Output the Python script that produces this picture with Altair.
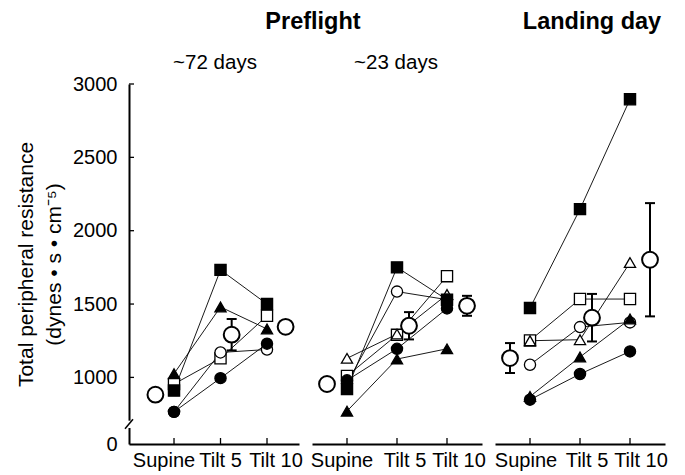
import altair as alt
import pandas as pd

# ---------------- data ----------------
conditions = ["Supine", "Tilt 5", "Tilt 10"]
panel_titles = ["~72 days", "~23 days", ""]

subjects = ["open square", "open triangle", "open circle",
            "filled square", "filled triangle", "filled circle"]
subject_shapes = ["square", "triangle-up", "circle", "square", "triangle-up", "circle"]
subject_fills = ["white", "white", "white", "black", "black", "black"]

# Total peripheral resistance (dynes·s·cm-5) per subject: Supine, Tilt 5, Tilt 10
tpr_72 = {
    "open square": [955, 1130, 1420],
    "open triangle": [None, None, None],
    "open circle": [765, 1170, 1190],
    "filled square": [910, 1733, 1500],
    "filled triangle": [1025, 1480, 1330],
    "filled circle": [765, 995, 1230],
}
tpr_23 = {
    "open square": [1010, 1290, 1690],
    "open triangle": [1130, 1295, 1565],
    "open circle": [960, 1585, 1530],
    "filled square": [920, 1750, 1530],
    "filled triangle": [770, 1125, 1195],
    "filled circle": [980, 1195, 1470],
}
tpr_land = {
    "open square": [1252, 1534, 1534],
    "open triangle": [1250, 1257, 1783],
    "open circle": [1086, 1343, 1375],
    "filled square": [1473, 2147, 2896],
    "filled triangle": [870, 1139, 1398],
    "filled circle": [848, 1023, 1177],
}

mean_72 = [882, 1291, 1345]
sem_72 = [30, 107, 35]
mean_23 = [955, 1352, 1488]
sem_23 = [30, 93, 68]
mean_land = [1132, 1407, 1802]
sem_land = [102, 162, 386]

mean_offsets = [-0.4, 0.24, 0.4]
y_ticks = [1000, 1500, 2000, 2500, 3000]

# ---------------- styling ----------------
FONT = "Liberation Sans"
H = 360
W = 170
Y_MIN, Y_MAX = 546, 3000
yscale = alt.Scale(domain=[Y_MIN, Y_MAX], nice=False, zero=False)

x_axis = alt.Axis(values=[0, 1, 2], labels=False, ticks=False, grid=False,
                  domainColor="black", domainWidth=2, title=None)
y_axis = alt.Axis(values=[Y_MIN] + y_ticks, format="d",
                  labelExpr="datum.value < 600 ? '0' : datum.label",
                  ticks=False, grid=False, domainColor="black", domainWidth=2,
                  labelColor="black", labelFontSize=20, labelFont=FONT, labelPadding=12,
                  title=["Total peripheral resistance", "(dynes • s • cm⁻⁵)"],
                  titleFontSize=21, titleFontWeight="normal", titleFont=FONT,
                  titleColor="black", titlePadding=8, titleLineHeight=28,
                  labelFlush=False, labelOverlap=False)


def panel(vals, means, sems, xdomain, first, texts, label_dx):
    xscale = alt.Scale(domain=xdomain, nice=False, zero=False)
    rows = []
    for s, shp, fl in zip(subjects, subject_shapes, subject_fills):
        for i, c in enumerate(conditions):
            v = vals[s][i]
            if v is None:
                continue
            rows.append({"subject": s, "shape": shp, "fill": fl, "pos": i, "value": v})
    df = pd.DataFrame(rows)
    mdf = pd.DataFrame({
        "pos": [i + o for i, o in enumerate(mean_offsets)],
        "value": means,
        "lo": [m - e for m, e in zip(means, sems)],
        "hi": [m + e for m, e in zip(means, sems)],
    })
    yax = y_axis if first else None

    def X(field="pos"):
        return alt.X(f"{field}:Q", scale=xscale, axis=x_axis)

    def Y(field="value"):
        return alt.Y(f"{field}:Q", scale=yscale, axis=yax)

    lines = alt.Chart(df).mark_line(color="black", strokeWidth=0.9).encode(
        x=X(), y=Y(), detail="subject:N", order="pos:Q")
    pts = alt.Chart(df).mark_point(filled=True, size=125, stroke="black",
                                   strokeWidth=1.3, opacity=1).encode(
        x=X(), y=Y(), shape=alt.Shape("shape:N", scale=None),
        fill=alt.Fill("fill:N", scale=None))
    ebar = alt.Chart(mdf).mark_rule(color="black", strokeWidth=2).encode(
        x=X(), y=Y("lo"), y2="hi:Q")
    caps_lo = alt.Chart(mdf).mark_tick(orient="horizontal", size=10, thickness=2,
                                      color="black", opacity=1).encode(x=X(), y=Y("lo"))
    caps_hi = alt.Chart(mdf).mark_tick(orient="horizontal", size=10, thickness=2,
                                      color="black", opacity=1).encode(x=X(), y=Y("hi"))
    mpts = alt.Chart(mdf).mark_point(filled=True, shape="circle", size=250, fill="white",
                                     stroke="black", strokeWidth=2, opacity=1).encode(
        x=X(), y=Y())
    xt = alt.Chart(pd.DataFrame({"pos": [0, 1, 2]})).mark_rule(
        color="black", strokeWidth=1.3).encode(x=X(), y=alt.value(H), y2=alt.value(H - 6))
    layers = [lines, pts, ebar, caps_lo, caps_hi, mpts, xt]
    # category labels under the axis
    for i, c in enumerate(conditions):
        layers.append(alt.Chart(pd.DataFrame({"pos": [i], "label": [c]})).mark_text(
            font=FONT, fontSize=20, color="black", align="center", baseline="top",
            dx=label_dx[i], dy=0).encode(x=X(), y=alt.value(H + 7), text="label:N"))
    if first:
        yt = alt.Chart(pd.DataFrame({"value": y_ticks})).mark_rule(
            color="black", strokeWidth=1.3).encode(y=Y(), x=alt.value(0), x2=alt.value(5))
        gap = alt.Chart(pd.DataFrame({"value": [655], "v2": [705]})).mark_rect(
            color="white").encode(y=Y(), y2="v2:Q", x=alt.value(-4), x2=alt.value(4))
        slash = alt.Chart(pd.DataFrame({"value": [650], "v2": [715]})).mark_rule(
            color="black", strokeWidth=1.5).encode(y=Y(), y2="v2:Q",
                                                   x=alt.value(-4), x2=alt.value(4))
        layers += [yt, gap, slash]
    for t, xx, yy, size, weight in texts:
        layers.append(alt.Chart(pd.DataFrame({"t": [t]})).mark_text(
            font=FONT, fontSize=size, fontWeight=weight, color="black",
            align="center", baseline="middle").encode(
            text="t:N", x=alt.value(xx), y=alt.value(yy)))
    return alt.layer(*layers).properties(width=W, height=H)


p1 = panel(tpr_72, mean_72, sem_72, [-0.968, 2.688], True,
           [(panel_titles[0], 86, -21, 20.5, "normal"), ("Preflight", 184, -62, 23.5, "bold")],
           [-10, 0, 9])
p2 = panel(tpr_23, mean_23, sem_23, [-0.7, 2.7], False,
           [(panel_titles[1], 84, -21, 20.5, "normal")],
           [-5, 8, 12])
p3 = panel(tpr_land, mean_land, sem_land, [-0.7, 2.7], False,
           [("Landing day", 97, -62, 23.5, "bold")],
           [-4, 7, 11])

chart = alt.hconcat(p1, p2, p3, spacing=13, bounds="flush").properties(
    padding={"left": 15, "top": 10, "right": 5, "bottom": 5}
).configure(font=FONT).configure_view(stroke=None)

chart.save("out.html", embed_options={"renderer": "svg", "actions": False})
